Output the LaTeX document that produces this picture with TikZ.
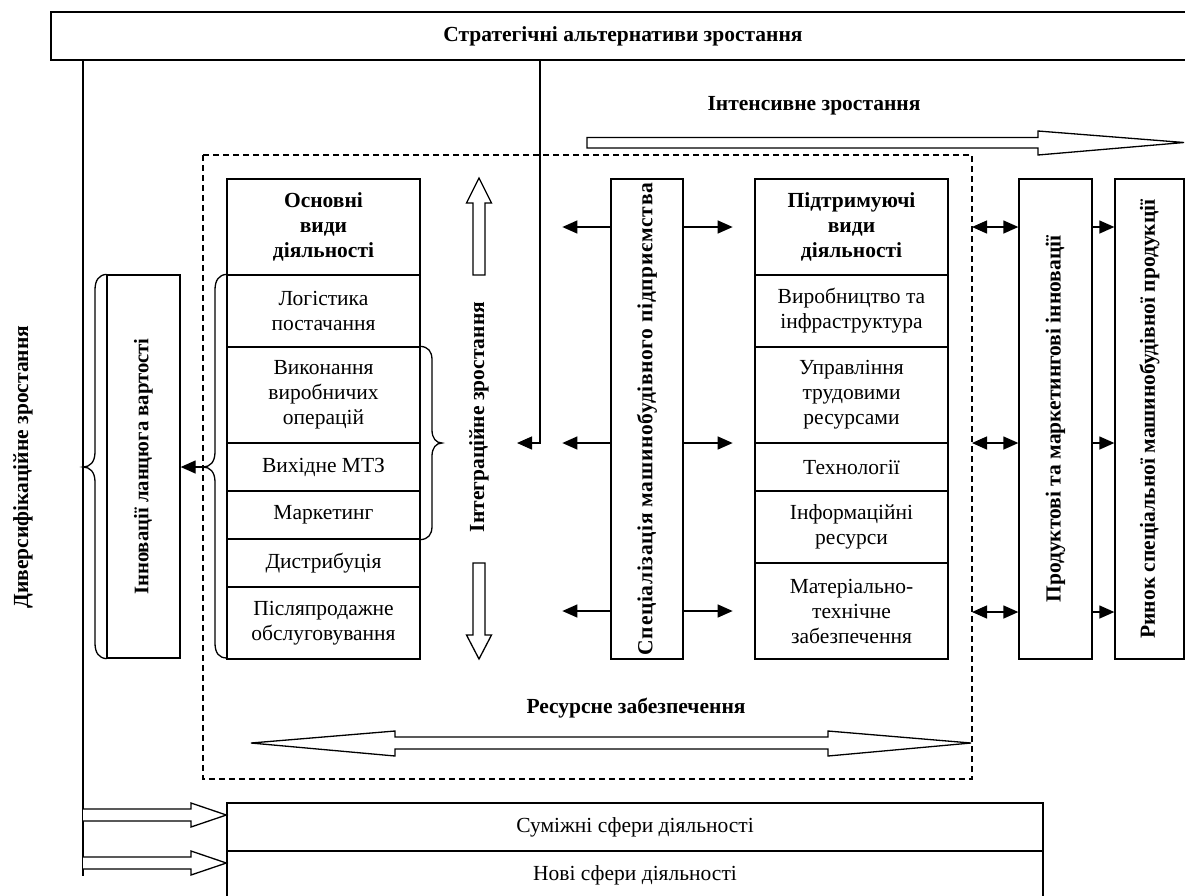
\documentclass[tikz,border=0pt]{standalone}
\usepackage{fontspec}
\setmainfont{Liberation Serif}
\usetikzlibrary{arrows.meta,calc}
\begin{document}
\begin{tikzpicture}[x=1pt,y=-1pt,
  every node/.style={font=\fontsize{21.5}{25}\selectfont},
  bf/.style={font=\fontsize{21.5}{25}\selectfont\bfseries},
  box/.style={draw,line width=1.3pt,inner sep=0pt,align=center,minimum width=193pt},
  ln/.style={line width=1.3pt},
  arr/.style={line width=1.3pt,-{Triangle[length=15pt,width=13pt]}},
  darr/.style={line width=1.3pt,{Triangle[length=15pt,width=13pt]}-{Triangle[length=15pt,width=13pt]}},
  harrow/.style={draw,line width=1.3pt,fill=white,line join=miter},
  dashline/.style={line width=1.2pt,dash pattern=on 6pt off 4pt}
]
\useasboundingbox (0,0) rectangle (1185,895);

% top box
\node[box,minimum width=1139pt,minimum height=48pt] (top) at (620.5,36) {};
\node[bf] (title) at (623,36) {Стратегічні альтернативи зростання};

% dashed frame
\draw[dashline] (203,155) rectangle (972,779);

% main activities
\node[box,bf,minimum height=96pt] (oh) at (323.5,227) {Основні\\види\\діяльності};
\node[box,minimum height=72pt] (o1) at (323.5,311) {Логістика\\постачання};
\node[box,minimum height=96pt] (o2) at (323.5,395) {Виконання\\виробничих\\операцій};
\node[box,minimum height=48pt] (o3) at (323.5,467) {Вихідне МТЗ};
\node[box,minimum height=48pt] (o4) at (323.5,515) {Маркетинг};
\node[box,minimum height=48pt] (o5) at (323.5,563) {Дистрибуція};
\node[box,minimum height=72pt] (o6) at (323.5,623) {Післяпродажне\\обслуговування};

% supporting activities
\node[box,bf,minimum height=96pt] (ph) at (851.5,227) {Підтримуючі\\види\\діяльності};
\node[box,minimum height=72pt] (p1) at (851.5,311) {Виробництво та\\інфраструктура};
\node[box,minimum height=96pt] (p2) at (851.5,395) {Управління\\трудовими\\ресурсами};
\node[box,minimum height=48pt] (p3) at (851.5,467) {Технології};
\node[box,minimum height=72pt] (p4) at (851.5,527) {Інформаційні\\ресурси};
\node[box,minimum height=96pt] (p5) at (851.5,611) {Матеріально-\\технічне\\забезпечення};

% vertical boxes
\node[box,minimum width=73pt,minimum height=383pt] (inn) at (143.5,466.5) {\rotatebox{90}{\fontsize{20.7}{25}\selectfont\bfseries Інновації ланцюга вартості}};
\node[box,minimum width=72pt,minimum height=480pt] (spec) at (647,419) {\rotatebox{90}{\bfseries\addfontfeature{LetterSpace=3}Спеціалізація машинобудівного підприємства}};
\node[box,minimum width=73pt,minimum height=480pt] (prod) at (1055.5,419) {\rotatebox{90}{\bfseries Продуктові та маркетингові інновації}};
\node[box,minimum width=69pt,minimum height=480pt] (rynok) at (1149.5,419) {\rotatebox{90}{\bfseries Ринок спеціальної машинобудівної продукції}};

% labels
\node[bf] (intens) at (814,106) {Інтенсивне зростання};
\node[bf,rotate=90] (integ) at (479,417) {Інтеграційне зростання};
\node[bf,rotate=90] (divers) at (23,467) {Диверсифікаційне зростання};
\node[bf] (res) at (636,708) {Ресурсне забезпечення};

% bottom boxes
\node[box,minimum width=816pt,minimum height=48pt] (s1) at (635,827) {Суміжні сфери діяльності};
\node[box,minimum width=816pt,minimum height=48pt] (s2) at (635,875) {Нові сфери діяльності};

% left long line
\coordinate (Ltop) at (83,60);
\coordinate (Lbot) at (83,876);
\draw[ln] (Ltop) -- (Lbot);

% middle line with arrow
\coordinate (Mtop) at (540,60);
\coordinate (Mend) at (517,443);
\draw[arr] (Mtop) |- (Mend);

% arrows around specialization
\foreach \yy in {227,443,611}{
  \draw[arr] (spec.west |- 0,\yy) -- ++(-48,0);
  \draw[arr] (spec.east |- 0,\yy) -- ++(49,0);
}
\foreach \yy in {227,443,612}{
  \draw[darr] (972,\yy) -- (prod.west |- 0,\yy);
  \draw[arr] (prod.east |- 0,\yy) -- (rynok.west |- 0,\yy);
}

% braces
\draw[ln] (o1.north west) .. controls (219,275) and (215,280) .. (215,290) -- (215,452)
  .. controls (215,462) and (210,467) .. (203,467)
  .. controls (210,467) and (215,472) .. (215,482) -- (215,643)
  .. controls (215,653) and (219,658) .. (227,658);
\coordinate (btip) at (203,467);
\draw[arr] (btip) -- (inn.east |- btip);

\draw[ln] (inn.north west) .. controls (99,275) and (95,280) .. (95,290) -- (95,452)
  .. controls (95,462) and (90,467) .. (83,467)
  .. controls (90,467) and (95,472) .. (95,482) -- (95,643)
  .. controls (95,653) and (99,658) .. (inn.south west);

\draw[ln] (o2.north east) .. controls (428,347) and (432,351) .. (432,360) -- (432,430)
  .. controls (432,438) and (436,443) .. (442,443)
  .. controls (436,443) and (432,448) .. (432,456) -- (432,526)
  .. controls (432,535) and (428,539) .. (o4.south east);

% hollow arrows: integration
\draw[harrow] (473,275) -- (473,203) -- (466.5,203) -- (479,178) -- (491.5,203) -- (485,203) -- (485,275) -- cycle;
\draw[harrow] (473,563) -- (485,563) -- (485,635) -- (491.5,635) -- (479,659) -- (466.5,635) -- (473,635) -- cycle;

% intensive growth arrow
\draw[harrow] (587,137.5) -- (1038,137.5) -- (1038,131) -- (1184,142.5) -- (1038,155) -- (1038,148) -- (587,148) -- cycle;

% resource double arrow
\draw[harrow] (251,743) -- (395,731) -- (395,737) -- (828,737) -- (828,731) -- (971,743) -- (828,756) -- (828,749) -- (395,749) -- (395,756) -- cycle;

% diversification arrows
\draw[harrow] (83,809) -- (191,809) -- (191,803) -- (s1.west |- 0,815) -- (191,827) -- (191,821) -- (83,821);
\draw[harrow] (83,857) -- (191,857) -- (191,851) -- (s2.west |- 0,863) -- (191,875) -- (191,869) -- (83,869);
\end{tikzpicture}
\end{document}
